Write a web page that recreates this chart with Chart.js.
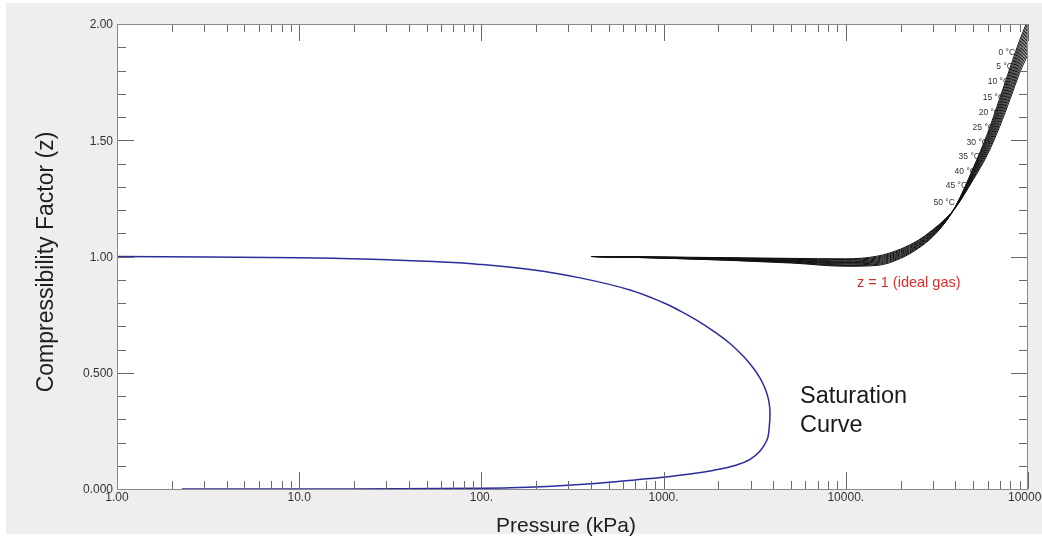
<!DOCTYPE html>
<html>
<head>
<meta charset="utf-8">
<script src="https://cdn.jsdelivr.net/npm/chart.js@4.4.1/dist/chart.umd.min.js"></script>
<style>
  html, body { margin: 0; padding: 0; background: #fff; }
  canvas { display: block; }
</style>
</head>
<body>
<canvas id="c" width="1042" height="540"></canvas>
<script>
// ---------- DATA ----------
// Saturation curve, vapour branch (low P -> critical point), pressure in kPa
const satVapP = [1, 10, 32.7, 54.3, 98, 185, 348, 654, 992, 1230, 1525, 1867, 2314, 2798, 3135, 3382, 3557, 3694, 3789, 3837];
const satVapZ = [1.000, 0.995, 0.985, 0.978, 0.966, 0.944, 0.908, 0.856, 0.802, 0.766, 0.725, 0.680, 0.626, 0.563, 0.516, 0.477, 0.443, 0.409, 0.374, 0.327];
// Saturation curve, liquid branch (critical point -> low P)
const satLiqP = [3789, 3694, 3382, 2981, 2466, 1867, 1396, 992, 697, 528, 348, 229, 144, 98, 35.7, 10, 2.27];
const satLiqZ = [0.254, 0.211, 0.163, 0.127, 0.101, 0.080, 0.065, 0.051, 0.039, 0.030, 0.019, 0.011, 0.005, 0.003, 0.001, 0.000, 0.000];

// Isotherms
const isoP = [400, 1000, 5000, 10000, 15000, 20000, 25000, 30000, 35000, 40000, 50000, 60000, 70000, 80000, 90000, 100000];
const z00 = [1.000,0.993,0.972,0.958,0.962,0.992,1.035,1.085,1.145,1.215,1.380,1.530,1.680,1.815,1.930,2.020];
const z05 = [1.000,0.993,0.974,0.961,0.966,0.996,1.039,1.088,1.147,1.215,1.375,1.521,1.668,1.802,1.916,2.005];
const z10 = [1.000,0.994,0.976,0.964,0.970,1.000,1.042,1.091,1.148,1.214,1.370,1.512,1.656,1.788,1.902,1.990];
const z15 = [1.000,0.994,0.978,0.968,0.974,1.004,1.046,1.094,1.150,1.214,1.365,1.503,1.644,1.775,1.888,1.975];
const z20 = [1.000,0.995,0.980,0.971,0.978,1.008,1.049,1.097,1.151,1.213,1.360,1.494,1.632,1.761,1.874,1.960];
const z25 = [1.000,0.995,0.982,0.974,0.982,1.012,1.053,1.100,1.153,1.213,1.355,1.485,1.620,1.748,1.860,1.945];
const z30 = [1.000,0.996,0.984,0.977,0.986,1.016,1.056,1.103,1.154,1.212,1.350,1.476,1.608,1.734,1.846,1.930];
const z35 = [1.000,0.996,0.986,0.980,0.990,1.020,1.060,1.106,1.156,1.212,1.345,1.467,1.596,1.721,1.832,1.915];
const z40 = [1.000,0.997,0.988,0.984,0.994,1.024,1.063,1.109,1.157,1.211,1.340,1.458,1.584,1.707,1.818,1.900];
const z45 = [1.000,0.997,0.990,0.987,0.998,1.028,1.067,1.112,1.159,1.211,1.335,1.449,1.572,1.694,1.804,1.885];
const z50 = [1.000,0.998,0.992,0.990,1.002,1.032,1.070,1.115,1.160,1.210,1.330,1.440,1.560,1.680,1.790,1.870];
const isoZ = [z00, z05, z10, z15, z20, z25, z30, z35, z40, z45, z50];

// Isotherm labels and their anchor points (data units: right end of text)
const tempLabels = ['0 °C','5 °C','10 °C','15 °C','20 °C','25 °C','30 °C','35 °C','40 °C','45 °C','50 °C'];
const tempLabelP = [84900, 82700, 78700, 73900, 70200, 65000, 60300, 54500, 51800, 46300, 39700];
const tempLabelZ = [1.875, 1.815, 1.751, 1.682, 1.617, 1.553, 1.488, 1.428, 1.363, 1.303, 1.230];

// Tick values / labels
const xMajorTicks = [1, 10, 100, 1000, 10000, 100000];
const xTickLabels = ['1.00', '10.0', '100.', '1000.', '10000.', '100000'];
const xMinorMult = [2, 3, 4, 5, 6, 7, 8, 9];
const yMajorTicks = [0, 0.5, 1, 1.5, 2];
const yTickLabels = ['0.000', '0.500', '1.00', '1.50', '2.00'];
const yMinorTicks = [0.1,0.2,0.3,0.4,0.6,0.7,0.8,0.9,1.1,1.2,1.3,1.4,1.6,1.7,1.8,1.9];

// ---------- CHART ----------
const FONT = '"Liberation Sans", Arial, sans-serif';

const satPts = satVapP.map((p, i) => ({ x: p, y: satVapZ[i] }))
  .concat(satLiqP.map((p, i) => ({ x: p, y: satLiqZ[i] })));

const datasets = [{
  label: 'Saturation',
  data: satPts,
  borderColor: '#2b2b9c',
  borderWidth: 1.5,
  pointRadius: 0,
  showLine: true,
  tension: 0.4,
  clip: 0,
  order: 0
}];
isoZ.forEach((arr, k) => {
  datasets.push({
    label: tempLabels[k],
    data: isoP.map((p, i) => ({ x: p, y: arr[i] })),
    borderColor: '#111111',
    borderWidth: 1,
    pointRadius: 0,
    showLine: true,
    cubicInterpolationMode: 'monotone',
    clip: 0,
    order: 1
  });
});

const deco = {
  id: 'deco',
  beforeDraw(chart) {
    const ctx = chart.ctx, a = chart.chartArea;
    ctx.save();
    ctx.fillStyle = '#ffffff';
    ctx.fillRect(0, 0, chart.width, chart.height);
    ctx.fillStyle = '#eeeeee';
    ctx.fillRect(6, 3, chart.width - 6, 531);
    ctx.fillStyle = '#ffffff';
    ctx.fillRect(a.left, a.top, a.right - a.left, a.bottom - a.top);
    ctx.restore();
  },
  afterDraw(chart) {
    const ctx = chart.ctx, a = chart.chartArea;
    const xs = chart.scales.x, ys = chart.scales.y;
    ctx.save();
    // ticks
    ctx.strokeStyle = '#6a6a6a';
    ctx.lineWidth = 1;
    const vtick = (v, len) => {
      const px = Math.round(xs.getPixelForValue(v)) + 0.5;
      ctx.beginPath();
      ctx.moveTo(px, a.bottom); ctx.lineTo(px, a.bottom - len);
      ctx.moveTo(px, a.top); ctx.lineTo(px, a.top + len);
      ctx.stroke();
    };
    const htick = (v, len) => {
      const py = Math.round(ys.getPixelForValue(v)) + 0.5;
      ctx.beginPath();
      ctx.moveTo(a.left, py); ctx.lineTo(a.left + len, py);
      ctx.moveTo(a.right, py); ctx.lineTo(a.right - len, py);
      ctx.stroke();
    };
    xMajorTicks.forEach((d, i) => {
      vtick(d, 17);
      if (i < xMajorTicks.length - 1) xMinorMult.forEach(m => vtick(d * m, 8));
    });
    yMajorTicks.forEach(v => htick(v, 17));
    yMinorTicks.forEach(v => htick(v, 9));
    // border
    ctx.strokeStyle = '#8a8a8a';
    ctx.strokeRect(a.left + 0.5, a.top + 0.5, a.right - a.left - 1, a.bottom - a.top);

    // tick labels
    ctx.fillStyle = '#333333';
    ctx.font = '12px ' + FONT;
    ctx.textAlign = 'right';
    ctx.textBaseline = 'middle';
    yMajorTicks.forEach((v, i) => ctx.fillText(yTickLabels[i], a.left - 4, ys.getPixelForValue(v) + 1));
    ctx.textAlign = 'center';
    ctx.textBaseline = 'top';
    xMajorTicks.forEach((v, i) => ctx.fillText(xTickLabels[i], xs.getPixelForValue(v), a.bottom + 3));

    // axis titles
    ctx.fillStyle = '#1e1e1e';
    ctx.font = '21px ' + FONT;
    ctx.textAlign = 'center';
    ctx.textBaseline = 'middle';
    ctx.fillText('Pressure (kPa)', 566, 526);
    ctx.save();
    ctx.translate(47, 262);
    ctx.rotate(-Math.PI / 2);
    ctx.font = '23px ' + FONT;
    ctx.fillText('Compressibility Factor (z)', 0, 0);
    ctx.restore();

    // isotherm labels
    ctx.fillStyle = '#333333';
    ctx.font = '8.5px ' + FONT;
    ctx.textAlign = 'right';
    ctx.textBaseline = 'middle';
    tempLabels.forEach((t, i) => ctx.fillText(t, xs.getPixelForValue(tempLabelP[i]), ys.getPixelForValue(tempLabelZ[i])));

    // annotations
    ctx.fillStyle = '#d2302c';
    ctx.font = '14.5px ' + FONT;
    ctx.textAlign = 'left';
    ctx.fillText('z = 1 (ideal gas)', 857, 283);

    ctx.fillStyle = '#1a1a1a';
    ctx.font = '23.5px ' + FONT;
    ctx.textBaseline = 'alphabetic';
    ctx.fillText('Saturation', 800, 403);
    ctx.fillText('Curve', 800, 432);
    ctx.restore();
  }
};

new Chart(document.getElementById('c'), {
  type: 'scatter',
  data: { datasets },
  options: {
    responsive: false,
    devicePixelRatio: 1,
    animation: false,
    layout: { padding: { left: 117, top: 24, right: 14, bottom: 51 } },
    plugins: { legend: { display: false }, tooltip: { enabled: false } },
    scales: {
      x: { type: 'logarithmic', min: 1, max: 100000, display: false },
      y: { type: 'linear', min: 0, max: 2, display: false }
    }
  },
  plugins: [deco]
});
</script>
</body>
</html>
